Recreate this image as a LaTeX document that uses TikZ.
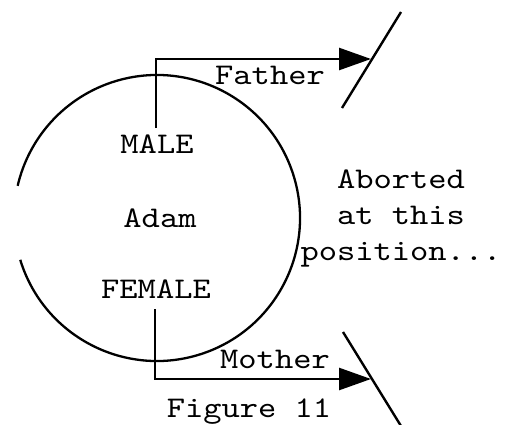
\documentclass[tikz,border=0pt]{standalone}
\usepackage{fontspec}
\setmonofont[FakeStretch=1.16]{lmmono10-regular.otf}
\usetikzlibrary{arrows.meta}
\usetikzlibrary{positioning}

\begin{document}
\begin{tikzpicture}[-,>={Triangle[length=32pt,width=22pt]},x=1pt,y=1pt,
                    line width=2.6pt,
                    txt node/.style={font=\ttfamily\fontsize{30}{36}\selectfont,
                                     inner sep=0pt,anchor=base,align=center}]
  \useasboundingbox (0,0) rectangle (513,424);

  % the open circle
  \draw[line width=2.3pt] (157,206) ++(-163:143) arc[start angle=-163,end angle=167,radius=143];

  \node[txt node] (male) at (157,271) {MALE};
  \node[txt node] (adam) at (160,197) {Adam};
  \node[txt node] (female) at (156,126) {FEMALE};
  \node[txt node] (father) at (270,340) {Father};
  \node[txt node] (mother) at (275,56) {Mother};
  \node[txt node] (aborted) at (401,164) {Aborted\\at this\\position...};
  \node[txt node] (caption) at (249,7) {Figure 11};

  % the two cut lines
  \coordinate (cut1a) at (342,316);
  \coordinate (cut1b) at (401,412);
  \coordinate (cut2a) at (343,92);
  \coordinate (cut2b) at (401,-2);
  \coordinate (fathertip) at (371,365);
  \coordinate (mothertip) at (371,45);

  \draw[line width=2.4pt] (cut1a) -- (cut1b);
  \draw[line width=2.4pt] (cut2a) -- (cut2b);

  \draw[->] ([xshift=-1pt,yshift=5pt]male.north) |- (fathertip);
  \draw[->] ([xshift=-1pt,yshift=-10pt]female.south) |- (mothertip);
\end{tikzpicture}
\end{document}
